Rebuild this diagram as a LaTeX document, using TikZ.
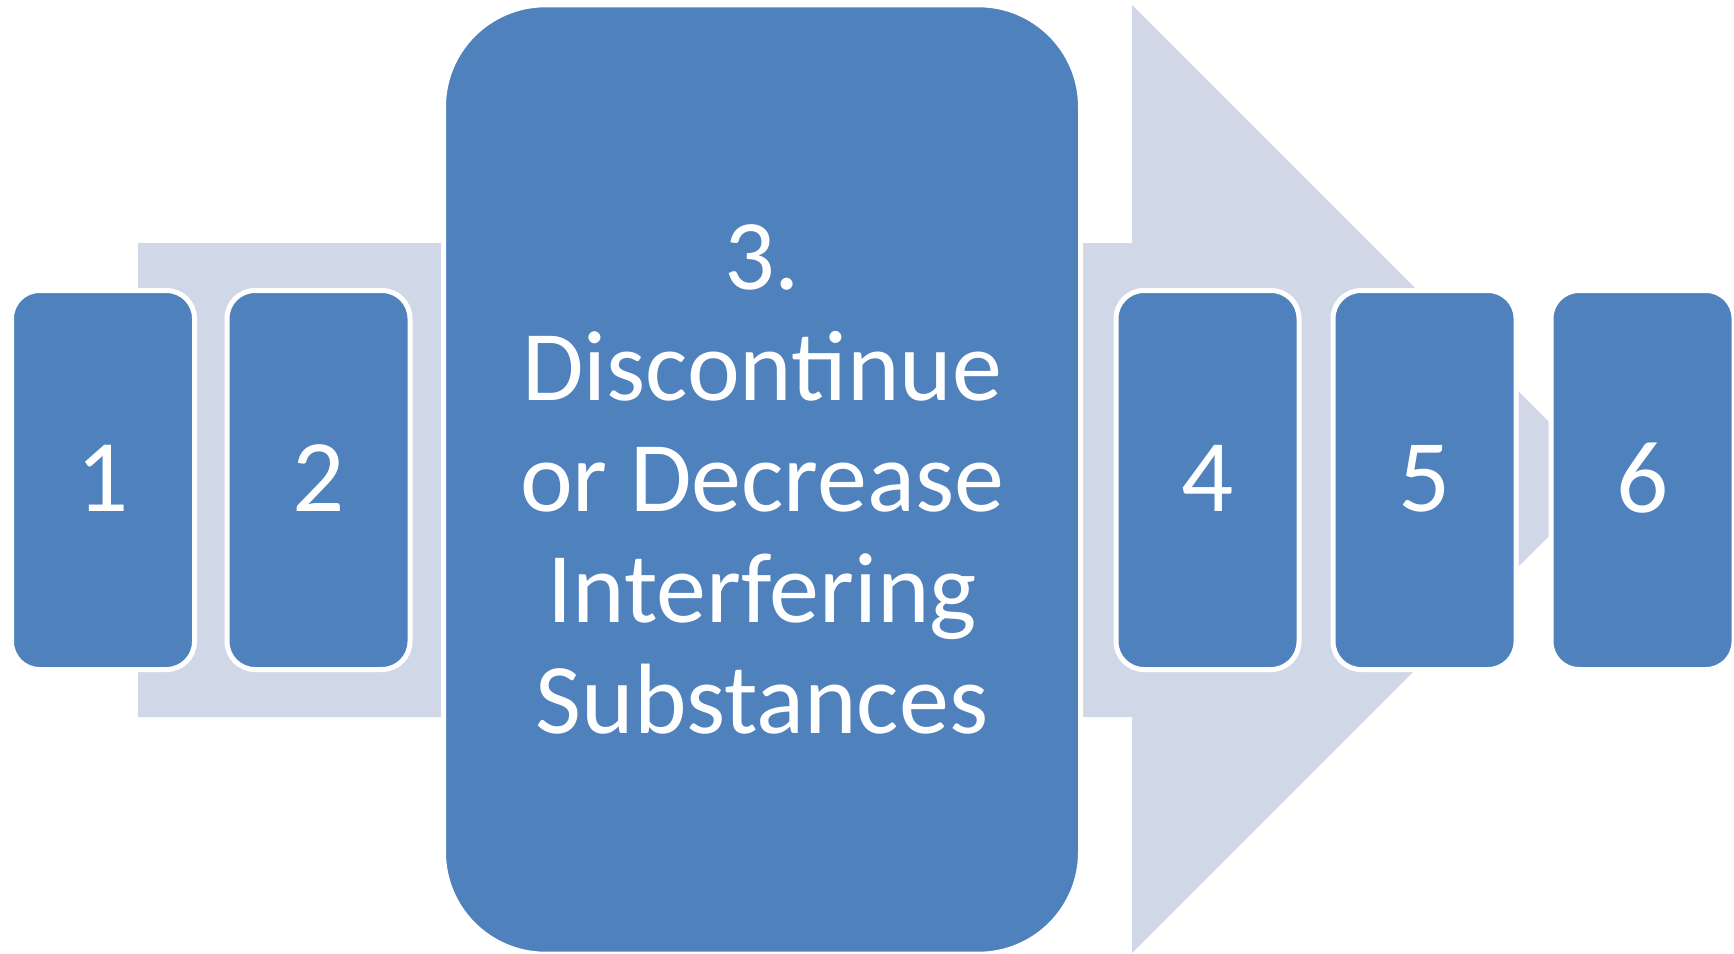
\documentclass[tikz,border=0pt]{standalone}
\usepackage{fontspec}
\setmainfont{Carlito}
\definecolor{stepblue}{HTML}{4F81BD}
\definecolor{arrowgray}{HTML}{D0D8E8}
\begin{document}
\begin{tikzpicture}[x=0.5pt,y=-0.5pt,
  stepbox/.style={rounded corners=14pt, fill=stepblue, draw=white,
    line width=2.5pt, minimum width=91.5pt, minimum height=189.5pt,
    inner sep=0pt, text=white, font=\fontsize{51.5}{60}\selectfont,
    text depth=2pt},
  bigbox/.style={stepbox, minimum width=318.5pt, minimum height=474.7pt,
    rounded corners=51pt, align=center, text depth=,
    font=\fontsize{50}{55.5}\selectfont}]
\useasboundingbox (0,0) rectangle (1734,953);
% background block arrow
\fill[arrowgray] (138,243) -- (1132,243) -- (1132,5) -- (1606,479)
  -- (1132,953) -- (1132,717) -- (138,717) -- cycle;
% steps
\node[stepbox] (s1) at (103,480) {1};
\node[stepbox] (s2) at (318.5,480) {2};
\node[bigbox] (s3) at (762,479.5) {3.\\Discontinue\\or Decrease\\Interfering\\Substances};
\node[stepbox] (s4) at (1207.5,480) {4};
\node[stepbox] (s5) at (1424.5,480) {5};
\node[stepbox] (s6) at (1642.5,480) {6};
\end{tikzpicture}
\end{document}
